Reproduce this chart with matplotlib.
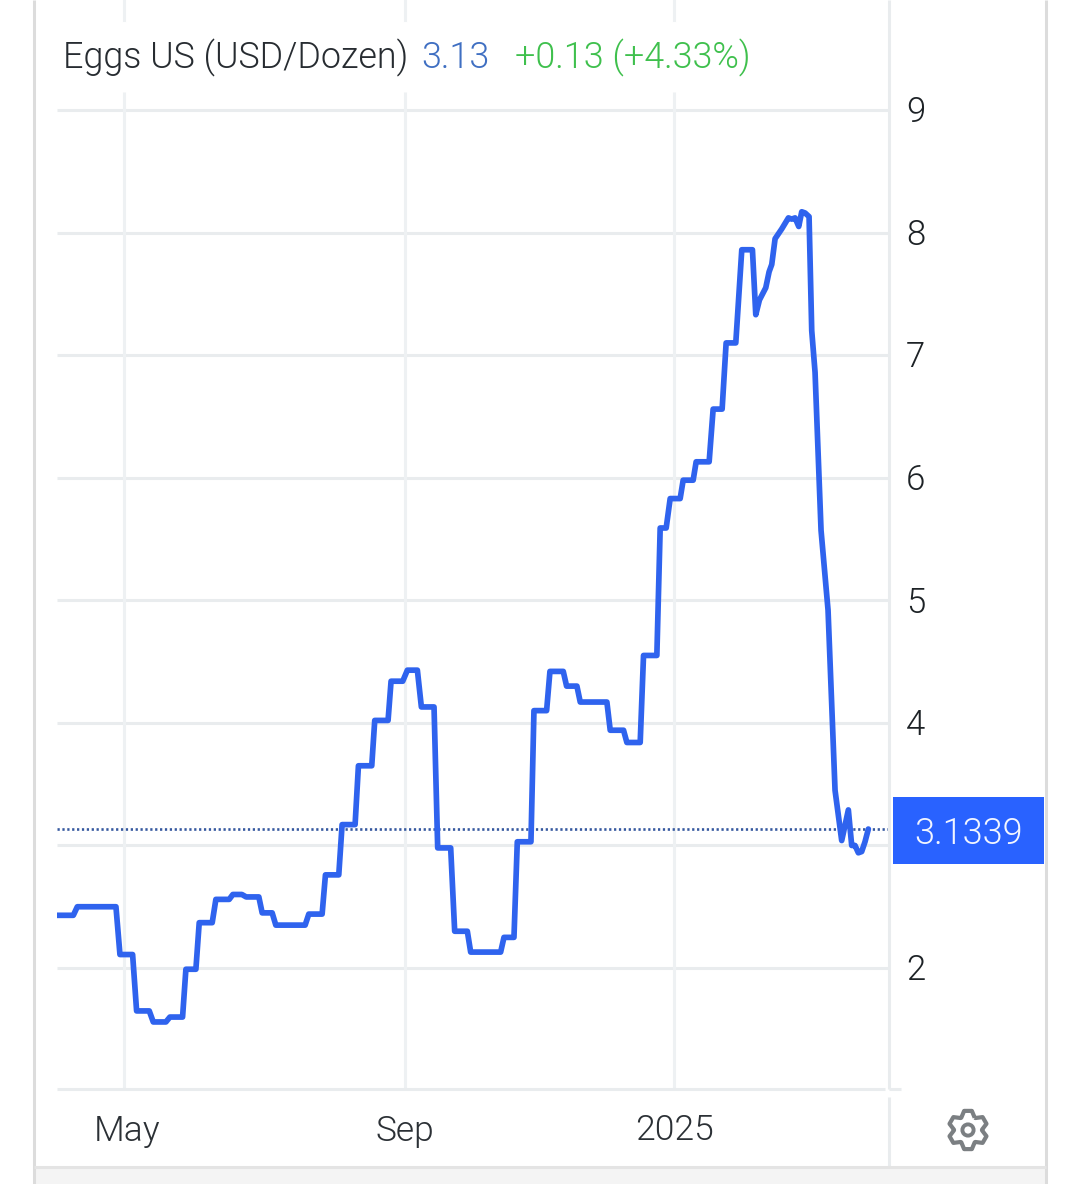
import numpy as np
import matplotlib
matplotlib.use("Agg")
import matplotlib.pyplot as plt
from matplotlib.lines import Line2D
from matplotlib.patches import Rectangle, PathPatch, Circle
from matplotlib.path import Path
from matplotlib.transforms import blended_transform_factory, ScaledTranslation

plt.rcParams['font.family'] = ['Roboto', 'DejaVu Sans']

# Trading sessions since the start of the window, and the price at each
sessions = [0, 4.9, 6.1, 17.7, 18.9, 22.7, 23.9, 27.7, 28.9, 32.7, 33.9, 37.7, 38.7, 41.7, 42.7,
            46.6, 47.7, 51.7, 52.8, 55.5, 56.8, 60.6, 61.6, 64.6, 65.7, 74.5, 75.6, 79.6, 80.6,
            84.6, 85.6, 89.5, 90.5, 94.5, 95.4, 99.4, 100.3, 103.8, 105.2, 108.2, 109.4, 113.2,
            114.3, 118.2, 119.4, 123.2, 124.2, 133.2, 134.2, 137.2, 138.2, 142.3, 143.2, 147,
            148, 152, 153, 156.1, 157.1, 165.1, 166.1, 170.1, 171.1, 175.1, 176.1, 180.1, 181.1,
            182.9, 184.1, 187.1, 188, 191, 191.9, 195.8, 197, 199.7, 200.9, 203.8, 205.6, 208.8,
            209.8, 210.9, 212.8, 213.8, 214.6, 215.6, 217.6, 219.6, 220.6, 221.6, 222.7, 223.6,
            224.6, 225.8, 226.6, 227.6, 229.4, 231.5, 233.6, 235.6, 237.6, 238.6, 239.6, 240.6,
            241.6, 242.6, 243.6]
prices = [2.43, 2.43, 2.50, 2.50, 2.11, 2.11, 1.65, 1.65, 1.56, 1.56, 1.60, 1.60, 1.99, 1.99, 2.37,
          2.37, 2.56, 2.56, 2.60, 2.60, 2.58, 2.58, 2.45, 2.45, 2.35, 2.35, 2.44, 2.44, 2.76,
          2.76, 3.17, 3.17, 3.65, 3.65, 4.02, 4.02, 4.34, 4.34, 4.43, 4.43, 4.13, 4.13,
          2.98, 2.98, 2.30, 2.30, 2.13, 2.13, 2.25, 2.25, 3.03, 3.03, 4.10, 4.10,
          4.42, 4.42, 4.30, 4.30, 4.17, 4.17, 3.94, 3.94, 3.84, 3.84, 4.55, 4.55, 5.59,
          5.59, 5.83, 5.83, 5.98, 5.98, 6.13, 6.13, 6.56, 6.56, 7.10, 7.10, 7.86, 7.86,
          7.33, 7.45, 7.55, 7.68, 7.74, 7.95, 8.03, 8.12, 8.11, 8.12, 8.05, 8.17,
          8.16, 8.13, 7.20, 6.86, 5.57, 4.92, 3.45, 3.04, 3.29, 3.00, 3.00, 2.94,
          2.95, 3.03, 3.1339]

last_price = 3.1339
month_labels = ["May", "Sep", "2025"]
month_sessions = [20.1, 104.5, 185.3]
price_ticks = [2, 3, 4, 5, 6, 7, 8, 9]
price_tick_labels = ["2", "", "4", "5", "6", "7", "8", "9"]

W, H = 1080, 1184
GRID = "#e9ecee"
VGRID = "#eef1f3"
LINE = "#2f63ee"
FRAME = "#dcdcdc"


def fx(px):
    return px / W


def fy(py):
    return 1 - py / H


fig = plt.figure(figsize=(W / 100, H / 100), dpi=100, facecolor="white")
ax = fig.add_axes([fx(57), fy(1089), fx(888) - fx(57), fy(92) - fy(1089)])
ax.set_xlim(0, 249.5)
ax.set_ylim(1.013, 9.147)
for s in ax.spines.values():
    s.set_visible(False)
ax.patch.set_alpha(0)

# Grid, with the price line on top
ax.hlines(price_ticks, 0, 249.5, color=GRID, lw=2.2, zorder=1)
ax.vlines(month_sessions, 1.013, 9.147, color=VGRID, lw=2.2, zorder=1)
stub = blended_transform_factory(ax.transData, fig.transFigure)
for m in month_sessions:
    ax.add_line(Line2D([m, m], [fy(20), 1], transform=stub, color=VGRID, lw=2.2, clip_on=False))

ax.axhline(last_price, color="#35589f", lw=1.9, ls=(0, (0.85, 1.0)), zorder=2, clip_on=False)
ax.plot(sessions, prices, color=LINE, lw=4.1, solid_joinstyle="round", solid_capstyle="round", zorder=3)

ax.yaxis.tick_right()
ax.set_yticks(price_ticks)
ax.set_yticklabels(price_tick_labels, fontsize=25, color="#1d2226", fontweight=300)
ax.tick_params(axis="y", length=0, pad=13)
for lbl in ax.get_yticklabels():
    lbl.set_transform(lbl.get_transform() + ScaledTranslation(0, 1 / 100, fig.dpi_scale_trans))
ax.set_xticks(month_sessions)
ax.set_xticklabels(month_labels, fontsize=25.5, color="#2b3035", fontweight=300)
ax.tick_params(axis="x", length=0, pad=18)
ax.get_xticklabels()[0].set_transform(
    ax.get_xticklabels()[0].get_transform() + ScaledTranslation(3 / 100, 0, fig.dpi_scale_trans))

# Header: instrument, last value and daily change
fig.text(fx(63), fy(58), "Eggs US (USD/Dozen)", fontsize=25.8, color="#272c31", va="center", fontweight=300)
fig.text(fx(421), fy(58), "3.13", fontsize=25.8, color="#3f6fc2", va="center", fontweight=300)
fig.text(fx(515), fy(58), "+0.13 (+4.33%)", fontsize=25.8, color="#3fc04d", va="center", fontweight=300)

# Current value flag on the price scale
fig.add_artist(Rectangle((fx(893), fy(864)), fx(1044) - fx(893), fy(797) - fy(864),
                         transform=fig.transFigure, color="#2962ff", lw=0))
fig.text(fx(968.5), fy(834), f"{last_price:.4f}", fontsize=26, color="#f2f5ff", ha="center", va="center", fontweight=300)


def rule(x0, y0, x1, y1, color=GRID, lw=2.2):
    fig.add_artist(Line2D([fx(x0), fx(x1)], [fy(y0), fy(y1)], transform=fig.transFigure,
                          color=color, lw=lw, solid_capstyle="butt"))


# Chart frame and panel separators
rule(57, 1089, 885, 1089)
rule(889, 1089, 901, 1089)
rule(889, 0, 889, 1089)
rule(889, 1097, 889, 1167)
rule(34, 0, 34, H, FRAME)
rule(1046, 0, 1046, H, FRAME)
fig.add_artist(Rectangle((fx(35), 0), fx(1045) - fx(35), fy(1167),
                         transform=fig.transFigure, color="#f4f4f4", lw=0))
rule(34, 1167, 1046, 1167, "#e4e4e4")

# Settings gear
icon = fig.add_axes([fx(940), fy(1158), 56 / W, 56 / H])
icon.set_xlim(-28, 28)
icon.set_ylim(-28, 28)
icon.axis("off")
teeth = 6
outer, inner = 19.5, 14.0
pts = []
for k in range(teeth):
    a = np.pi / 2 + 2 * np.pi * k / teeth
    for da, r in [(-0.50, inner), (-0.20, outer), (0.20, outer), (0.50, inner)]:
        pts.append((r * np.cos(a + da), r * np.sin(a + da)))
pts.append(pts[0])
icon.add_patch(PathPatch(Path(pts), fc="none", ec="#7b7f82", lw=3.0, joinstyle="round"))
icon.add_patch(Circle((0, 0), 5.6, fc="none", ec="#7b7f82", lw=2.8))

fig.savefig("out.png", dpi=100)
